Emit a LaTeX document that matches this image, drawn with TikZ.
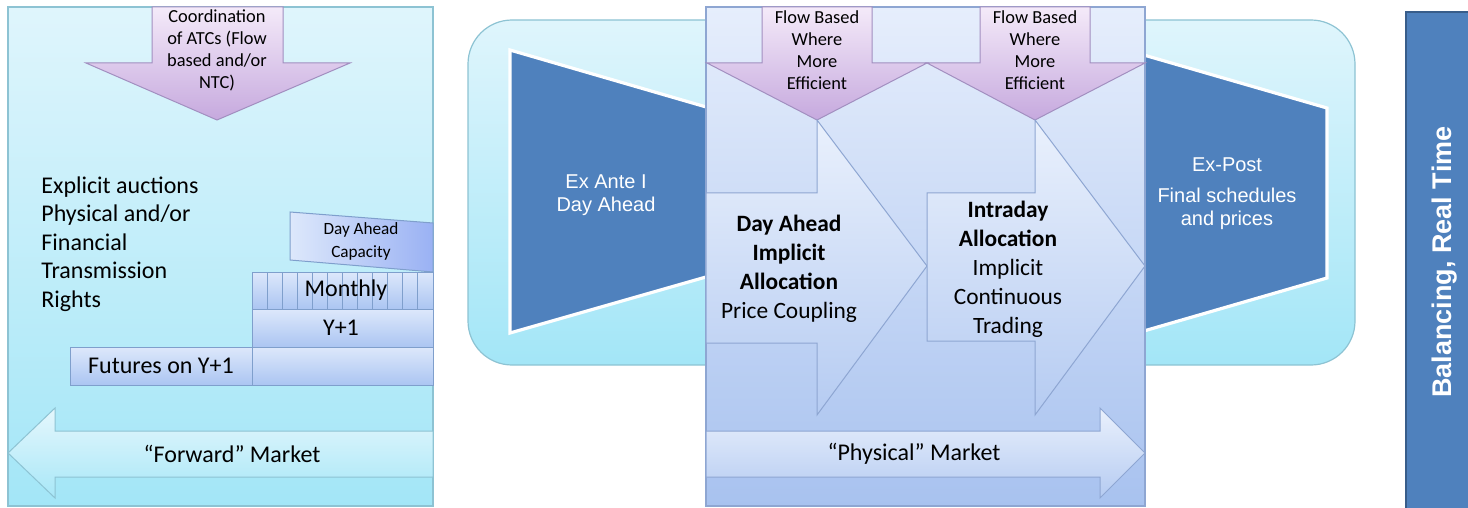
\documentclass[tikz,border=0pt]{standalone}
\usepackage{fontspec}
\setmainfont{Carlito}
\newfontfamily\arialf{Liberation Sans}
\definecolor{cyanA}{HTML}{DFF5FC}
\definecolor{cyanB}{HTML}{A3E6F7}
\definecolor{cyanE}{HTML}{8DC3D3}
\definecolor{lavA}{HTML}{F4EAF9}
\definecolor{lavB}{HTML}{C6A9DE}
\definecolor{lavE}{HTML}{A28FC0}
\definecolor{blkA}{HTML}{DDE8FB}
\definecolor{blkB}{HTML}{ABC5F2}
\definecolor{blkE}{HTML}{7F9FCC}
\definecolor{midA}{HTML}{E6EEFC}
\definecolor{midB}{HTML}{A8C2EF}
\definecolor{midE}{HTML}{8EA6D2}
\definecolor{dblue}{HTML}{4F81BD}
\definecolor{dblueE}{HTML}{385D8A}
\begin{document}
\begin{tikzpicture}[x=0.5pt,y=-0.5pt,
  cyanpanel/.style={draw=cyanE, line width=0.6pt, top color=cyanA, bottom color=cyanB},
  lavarrow/.style={draw=lavE, line width=0.5pt, top color=lavA, bottom color=lavB},
  blk/.style={draw=blkE, line width=0.5pt, top color=blkA, bottom color=blkB},
  midpanel/.style={draw=midE, line width=0.6pt, top color=midA, bottom color=midB},
  midarrow/.style={draw=midE, line width=0.5pt, top color=midA!85!white, bottom color=midB!85!white},
  trap/.style={draw=white, line width=1.6pt, fill=dblue},
  small/.style={font=\fontsize{9.2}{11}\selectfont, align=center, inner sep=0pt},
  txt/.style={font=\fontsize{12}{14.25}\selectfont, inner sep=0pt},
  btxt/.style={font=\fontsize{11.7}{14.5}\selectfont, align=center, inner sep=0pt},
  wtxt/.style={font=\arialf\fontsize{10}{11.5}\selectfont, text=white, align=center, inner sep=0pt}]
\useasboundingbox (0,0) rectangle (1468,508);

% ---------------- Left panel ----------------
\path[cyanpanel] (8,7) rectangle (433,506);
\path[lavarrow] (152,7) -- (283,7) -- (283,63) -- (350,63) -- (217,120) -- (86,63) -- (152,63) -- cycle;
\node[small] (coord) at (217,50) {Coordination\\of ATCs (Flow\\based and/or\\NTC)};
\node[txt, align=left, anchor=west] (explicit) at (41,244) {Explicit auctions\\Physical and/or\\Financial\\Transmission\\Rights};
% blocks
\path[draw=blkE, line width=0.5pt, left color=blkA, right color=blkB!90!blue] (290,212) -- (433,223) -- (433,272) -- (290,260) -- cycle;
\node[font=\fontsize{8.6}{11.5}\selectfont, align=center, inner sep=0pt] (dacap) at (361,241.5) {Day Ahead\\Capacity};
\path[blk] (252,272) rectangle (433,309);
\foreach \k in {1,...,11} {\draw[blkE, line width=0.5pt] ({252+\k*15.083},272) -- ({252+\k*15.083},309);}
\node[txt] (monthly) at (346,290.5) {Monthly};
\path[blk] (252,309) rectangle (433,347);
\node[txt] (y1) at (341,328) {Y+1};
\path[blk] (70,347) rectangle (252,385);
\path[blk] (252,347) rectangle (433,385);
\node[txt] (fut) at (161,366) {Futures on Y+1};
% forward arrow
\path[draw=cyanE, line width=0.5pt, top color=cyanA!80!white, bottom color=cyanB!95!white] (433,431) -- (55,431) -- (55,408) -- (8,453) -- (55,498) -- (55,477) -- (433,477) -- cycle;
\node[txt] (fwd) at (232,454) {“Forward” Market};

% ---------------- Rounded box & trapezoids ----------------
\path[cyanpanel, rounded corners=22pt] (468,20) rectangle (1355,365);
\path[trap] (510,50) -- (720,111) -- (720,273) -- (510,333) -- cycle;
\path[trap] (1130,51) -- (1327,108) -- (1327,278) -- (1130,335) -- cycle;
\node[wtxt] (exante) at (606,195.5) {Ex Ante I\\Day Ahead};
\node[wtxt, anchor=north] (expost) at (1227,157) {Ex-Post\\[4pt]Final schedules\\and prices};

% ---------------- Middle panel ----------------
\path[midpanel] (706,7) rectangle (1145,506);
\path[lavarrow] (762,7) -- (872,7) -- (872,63) -- (927,63) -- (817,120) -- (707,63) -- (762,63) -- cycle;
\path[lavarrow] (980,7) -- (1090,7) -- (1090,63) -- (1145,63) -- (1035,120) -- (927,63) -- (980,63) -- cycle;
\node[small] (fb1) at (817,50) {Flow Based\\Where\\More\\Efficient};
\node[small] (fb2) at (1035,50) {Flow Based\\Where\\More\\Efficient};
\path[midarrow] (706,193) -- (817,193) -- (817,120) -- (927,266) -- (817,415) -- (817,343) -- (706,343) -- cycle;
\path[midarrow] (927,193) -- (1035,193) -- (1035,120) -- (1145,266) -- (1035,415) -- (1035,341) -- (927,341) -- cycle;
\node[btxt] (da) at (789,268.5) {\bfseries Day Ahead\\\bfseries Implicit\\\bfseries Allocation\\Price Coupling};
\node[btxt] (id) at (1008,269) {\bfseries Intraday\\\bfseries Allocation\\Implicit\\Continuous\\Trading};
\path[midarrow] (706,431) -- (1100,431) -- (1100,408) -- (1145,453) -- (1100,498) -- (1100,477) -- (706,477) -- cycle;
\node[txt] (phys) at (914,454) {“Physical” Market};

% ---------------- Balancing bar ----------------
\path[draw=dblueE, line width=0.8pt, fill=dblue] (1406,12) rectangle (1475,515);
\node[font=\arialf\bfseries\fontsize{13.5}{16}\selectfont, text=white, rotate=90, inner sep=0pt] (bal) at (1445,262) {Balancing, Real Time};
\end{tikzpicture}
\end{document}
